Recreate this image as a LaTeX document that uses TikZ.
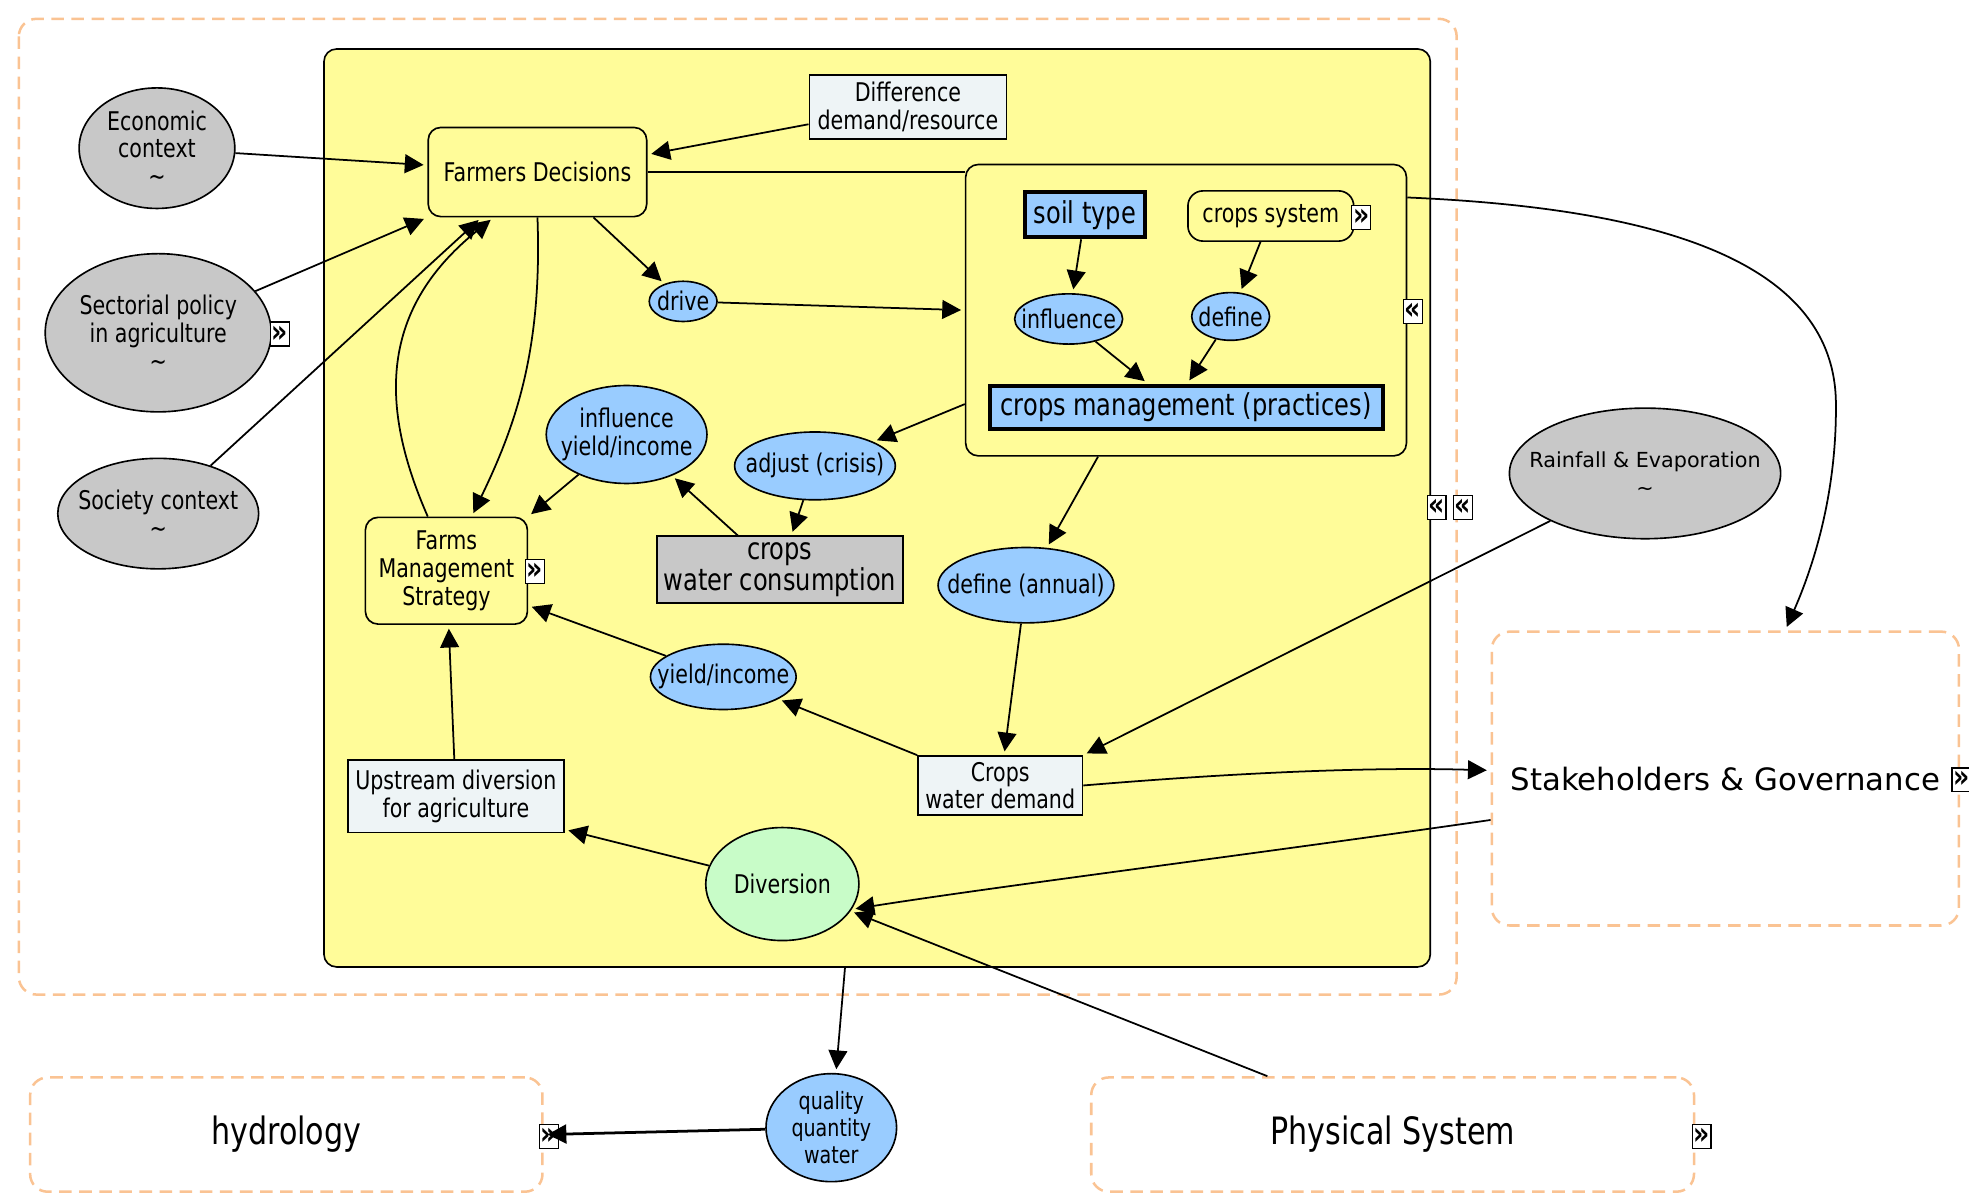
\documentclass[tikz,border=0pt]{standalone}
\usepackage{fontspec}
\setmainfont{DejaVu Sans}[FakeStretch=0.8]
\newfontfamily\anchafont{DejaVu Sans}
\usetikzlibrary{arrows.meta,shapes.geometric}

\definecolor{amarillo}{HTML}{FFFC99}
\definecolor{azul}{HTML}{99CCFF}
\definecolor{gris}{HTML}{C8C8C8}
\definecolor{verde}{HTML}{C8FCC8}
\definecolor{celeste}{HTML}{EEF4F6}
\definecolor{naranja}{HTML}{FAC393}

\tikzset{
  letra/.style={font=\fontsize{20.5}{22}\selectfont},
  ovalo/.style={ellipse, draw, line width=1.3pt, inner sep=-100pt, align=center, letra},
  ovalgris/.style={ovalo, fill=gris},
  ovalazul/.style={ovalo, fill=azul},
  caja/.style={rectangle, draw, line width=1.3pt, inner sep=0pt, align=center, letra},
  cajaclara/.style={caja, fill=celeste},
  cajaredonda/.style={caja, fill=amarillo, rounded corners=10pt},
  cajaazul/.style={caja, fill=azul, line width=3.2pt, font=\fontsize{24}{26}\selectfont},
  borde/.style={draw=naranja, dash pattern=on 10pt off 6pt, line width=2pt, rounded corners=14pt},
  marca/.style={draw, fill=white, line width=1pt, inner sep=0pt, minimum width=15pt,
    minimum height=19pt, font=\bfseries\fontsize{25}{25}\selectfont},
  flecha/.style={->, shorten >=3pt}
}

\begin{document}
\begin{tikzpicture}[x=1pt, y=-1pt, >={Triangle[length=15pt,width=15pt]}, line width=1.4pt]
  \useasboundingbox (0,0) rectangle (1568,951);

  % Contorno punteado del sistema agricola
  \draw[borde] (15,15) rectangle (1160,792);

  % Zona amarilla con las decisiones
  \node[cajaredonda, minimum width=881pt, minimum height=731pt] (zona) at (698.5,404.5) {};
  \node[marca] (mz1) at (1144,404) {«};
  \node[marca] (mz2) at (1165,404) {«};

  % Contexto exterior
  \node[ovalgris, minimum width=124pt, minimum height=96pt] (eco) at (125,118) {Economic\\context\\\textasciitilde};
  \node[ovalgris, minimum width=180pt, minimum height=126pt] (sect) at (126,265) {Sectorial policy\\in agriculture\\\textasciitilde};
  \node[marca] (msect) at (223,266) {»};
  \node[ovalgris, minimum width=160pt, minimum height=88pt] (soc) at (126,409) {Society context\\\textasciitilde};

  % Decisiones y estrategia
  \node[cajaredonda, minimum width=174pt, minimum height=71pt] (fd) at (428,137) {Farmers Decisions};
  \node[cajaclara, minimum width=157pt, minimum height=51pt] (dif) at (723,85) {Difference\\demand/resource};
  \node[ovalazul, minimum width=54pt, minimum height=32pt] (drive) at (544,240) {drive};
  \node[cajaredonda, minimum width=129pt, minimum height=85pt] (fms) at (355.5,454.5) {Farms\\Management\\Strategy};
  \node[marca] (mfms) at (426,455) {»};

  % Bloque de cultivos
  \node[cajaredonda, minimum width=351pt, minimum height=232pt] (cult) at (944.5,247) {};
  \node[marca] (mcult) at (1125,248) {«};
  \node[cajaazul, minimum width=96pt, minimum height=36pt] (soil) at (864,171) {soil type};
  \node[cajaredonda, rounded corners=12pt, minimum width=132pt, minimum height=40pt] (csys) at (1012,172) {crops system};
  \node[marca] (mcsys) at (1084,173) {»};
  \node[ovalazul, minimum width=86pt, minimum height=40pt] (infl) at (851,254) {influence};
  \node[ovalazul, minimum width=62pt, minimum height=38pt] (def) at (980,252) {define};
  \node[cajaazul, minimum width=313pt, minimum height=35pt] (cmgmt) at (944.5,324.5) {crops management (practices)};

  % Consumo, rendimiento y demanda
  \node[ovalazul, minimum width=128pt, minimum height=78pt] (iyi) at (499,346) {influence\\yield/income};
  \node[ovalazul, minimum width=128pt, minimum height=54pt] (adj) at (649,371) {adjust (crisis)};
  \node[caja, fill=gris, minimum width=196pt, minimum height=53pt, font=\fontsize{24}{25}\selectfont] (cwc) at (621,453.5) {crops\\water consumption};
  \node[ovalazul, minimum width=140pt, minimum height=60pt] (defa) at (817,466) {define (annual)};
  \node[ovalazul, minimum width=116pt, minimum height=52pt] (yi) at (576,539) {yield/income};
  \node[cajaclara, minimum width=131pt, minimum height=47pt] (cwd) at (796.5,625.5) {Crops\\water demand};
  \node[cajaclara, minimum width=172pt, minimum height=58pt] (up) at (363,634) {Upstream diversion\\for agriculture};
  \node[ovalo, fill=verde, minimum width=122pt, minimum height=90pt] (div) at (623,704) {Diversion};

  % Lluvia y gobernanza
  \node[ovalgris, minimum width=216pt, minimum height=104pt, font=\anchafont\fontsize{16.5}{22}\selectfont] (rain) at (1310,377) {Rainfall \& Evaporation\\\textasciitilde};
  \node[borde, minimum width=372pt, minimum height=234pt, font=\anchafont\fontsize{24.5}{26}\selectfont] (gob) at (1374,620) {Stakeholders \& Governance};
  \node[marca] (mgob) at (1562,621) {»};

  % Sistemas de abajo
  \node[borde, minimum width=408pt, minimum height=91pt, font=\fontsize{30}{32}\selectfont] (hyd) at (228,903.5) {hydrology};
  \node[marca] (mhyd) at (437,905) {»};
  \node[borde, minimum width=480pt, minimum height=91pt, font=\fontsize{30}{32}\selectfont] (phys) at (1109,903.5) {Physical System};
  \node[marca] (mphys) at (1355,905) {»};
  \node[ovalazul, minimum width=104pt, minimum height=86pt, font=\fontsize{19}{21.5}\selectfont] (qual) at (662,898) {quality\\quantity\\water};

  % Flechas hacia las decisiones
  \draw[flecha] (eco) -- (fd);
  \draw[flecha] (sect) -- (fd.south west);
  \draw[flecha] (soc) -- (fd.219);
  \draw[flecha] (fms.109) .. controls (305,330) and (298,250) .. (fd.226);
  \draw[flecha] (fd.south) .. controls (432,280) and (410,340) .. (fms.65);
  \draw[flecha] (dif.190) -- (fd.9);
  \draw (fd.east) -- (fd.east -| cult.west);
  \draw[flecha] (fd.321) -- (drive);
  \draw[flecha] (drive) -- (cult.west);

  % Flechas dentro de los cultivos
  \draw[flecha] (soil) -- (infl);
  \draw[flecha] (csys) -- (def);
  \draw[flecha] (infl.320) -- (cmgmt.148);
  \draw[flecha] (def) -- (cmgmt.87);

  % Flechas de consumo y demanda
  \draw[flecha] (cult.203) -- (adj);
  \draw[flecha] (cult.27) .. controls (1300,165) and (1460,200) .. (1462,320)
    .. controls (1463,400) and (1440,460) .. (gob.68);
  \draw[flecha] (cult.239) -- (defa);
  \draw[flecha] (iyi) -- (fms.north east);
  \draw[flecha] (cwc.141) -- (iyi);
  \draw[flecha] (adj) -- (cwc);
  \draw[flecha] (defa) -- (cwd);
  \draw[flecha] (cwd.north west) -- (yi);
  \draw[flecha] (yi) -- (fms.337);
  \draw[flecha] (rain) -- (cwd.north east);
  \draw[flecha] (cwd.east) .. controls (1000,614) and (1100,611) .. (gob.178);
  \draw[flecha] (gob.190) .. controls (1000,680) and (800,705) .. (div.-20);
  \draw[flecha] (up) -- (fms);
  \draw[flecha] (div) -- (up.343);
  \draw[flecha] (phys.155) -- (div);

  % Salida de agua
  \draw[flecha] (zona.266) -- (qual);
  \draw[flecha, line width=2.2pt] (qual) -- (hyd.east);
\end{tikzpicture}
\end{document}
